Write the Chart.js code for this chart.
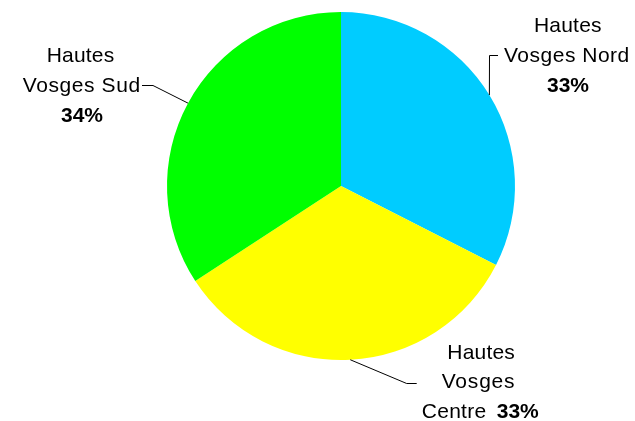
<!DOCTYPE html>
<html>
<head>
<meta charset="utf-8">
<script src="https://cdn.jsdelivr.net/npm/chart.js@4/dist/chart.umd.min.js"></script>
<style>
html,body{margin:0;padding:0;background:#fff;}
canvas{display:block;}
</style>
</head>
<body>
<canvas id="c" width="635" height="421"></canvas>
<script>
const categories = ['Hautes Vosges Nord', 'Hautes Vosges Centre', 'Hautes Vosges Sud'];
const values = [32.5, 33.3, 34.2];
const colors = ['#00CCFF', '#FFFF00', '#00FF00'];

const FONT = '"Liberation Sans", Arial, sans-serif';

// label layout (text placement and leader-line elbows), per slice
const layouts = [
  { elbow: [[489.5, 55.5], [498, 55.5]],
    lines: [ {w: [0, 1], x: 534, y: 31.7, ls: 0.2},
             {w: [1, 3], x: 504, y: 62.3, ls: 0.5},
             {pct: true, x: 547, y: 91.7} ] },
  { elbow: [[406.7, 383.5], [416.7, 383.5]],
    lines: [ {w: [0, 1], x: 447.3, y: 359.3, ls: 0.2},
             {w: [1, 2], x: 441.7, y: 388.3, ls: 0.8},
             {w: [2, 3], x: 421.7, y: 417.7, ls: 0.3},
             {pct: true, x: 496.7, y: 417.7} ] },
  { elbow: [[153, 85.5], [142, 85.5]],
    lines: [ {w: [0, 1], x: 46.7, y: 61.7, ls: 0.2},
             {w: [1, 3], x: 22.7, y: 91.7, ls: 0.6},
             {pct: true, x: 61, y: 121.7} ] }
];

const labelPlugin = {
  id: 'pieLabels',
  afterDraw(chart) {
    const ctx = chart.ctx;
    const meta = chart.getDatasetMeta(0);
    const data = chart.data.datasets[0].data;
    const total = data.reduce((a, b) => a + b, 0);
    meta.data.forEach((arc, i) => {
      const lay = layouts[i];
      const mid = (arc.startAngle + arc.endAngle) / 2;
      const sx = arc.x + Math.cos(mid) * arc.outerRadius;
      const sy = arc.y + Math.sin(mid) * arc.outerRadius;
      ctx.save();
      ctx.strokeStyle = '#000';
      ctx.lineWidth = 1;
      ctx.beginPath();
      ctx.moveTo(sx, sy);
      lay.elbow.forEach(p => ctx.lineTo(p[0], p[1]));
      ctx.stroke();
      ctx.fillStyle = '#000';
      ctx.textAlign = 'left';
      ctx.textBaseline = 'alphabetic';
      const words = chart.data.labels[i].split(' ');
      lay.lines.forEach(l => {
        let txt;
        if (l.pct) {
          txt = Math.round(data[i] / total * 100) + '%';
          ctx.font = 'bold 21px ' + FONT;
          ctx.letterSpacing = '0px';
        } else {
          txt = words.slice(l.w[0], l.w[1]).join(' ');
          ctx.font = '21px ' + FONT;
          ctx.letterSpacing = (l.ls || 0) + 'px';
        }
        ctx.fillText(txt, l.x, l.y);
      });
      ctx.restore();
    });
  }
};

new Chart(document.getElementById('c'), {
  type: 'pie',
  data: {
    labels: categories,
    datasets: [{
      data: values,
      backgroundColor: colors,
      borderWidth: 0,
      hoverOffset: 0
    }]
  },
  options: {
    responsive: false,
    devicePixelRatio: 1,
    animation: false,
    layout: { padding: { top: 12, bottom: 61, left: 167, right: 120 } },
    plugins: { legend: { display: false }, tooltip: { enabled: false } }
  },
  plugins: [labelPlugin]
});
</script>
</body>
</html>
